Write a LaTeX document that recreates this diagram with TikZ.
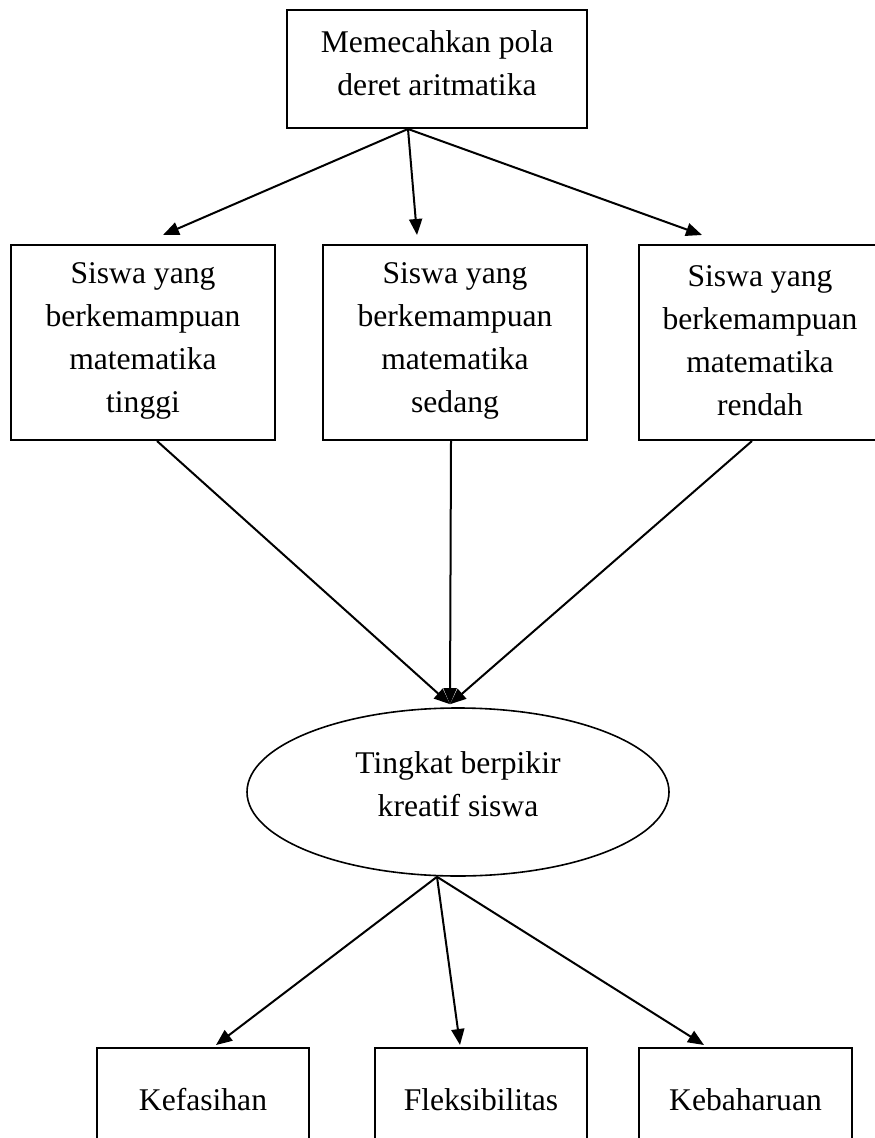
\documentclass[tikz,border=0pt]{standalone}
\usepackage{fontspec}
\setmainfont{Liberation Serif}
\usetikzlibrary{arrows.meta,calc,shapes.geometric}
\tikzset{
  boxshape/.style={draw, line width=1pt, rectangle, inner sep=0pt},
  ellshape/.style={draw, line width=0.8pt, ellipse, inner sep=0pt},
  lbl/.style={align=center, inner sep=0pt, font=\fontsize{15.8}{21.5}\selectfont},
  arr/.style={line width=1pt, -{Triangle[length=8pt,width=6.5pt]}}
}
\begin{document}
\begin{tikzpicture}[x=0.5pt,y=-0.5pt]
\useasboundingbox (0,0) rectangle (874,1138);
% shapes
\node[boxshape, minimum width=150pt, minimum height=59pt] (top) at (437,69) {};
\node[boxshape, minimum width=132pt, minimum height=97.5pt] (L) at (143,342.5) {};
\node[boxshape, minimum width=132pt, minimum height=97.5pt] (M) at (455,342.5) {};
\node[boxshape, minimum width=120.5pt, minimum height=97.5pt] (R) at (759.5,342.5) {};
\node[ellshape, minimum width=211pt, minimum height=84pt] (E) at (458,792) {};
\node[boxshape, minimum width=106pt, minimum height=52pt] (B1) at (203,1100) {};
\node[boxshape, minimum width=106pt, minimum height=52pt] (B2) at (481,1100) {};
\node[boxshape, minimum width=106.5pt, minimum height=52pt] (B3) at (745.5,1100) {};
% texts
\node[lbl] (topt) at (437,63) {Memecahkan pola\\deret aritmatika};
\node[lbl] (Lt) at (143,341) {Siswa yang\\berkemampuan\\matematika\\tinggi};
\node[lbl] (Mt) at (455,341) {Siswa yang\\berkemampuan\\matematika\\sedang};
\node[lbl] (Rt) at (760,341) {Siswa yang\\berkemampuan\\matematika\\rendah};
\node[lbl] (Et) at (458,784) {Tingkat berpikir\\kreatif siswa};
\node[lbl] (B1t) at (203,1100) {Kefasihan};
\node[lbl] (B2t) at (481,1100) {Fleksibilitas};
\node[lbl] (B3t) at (745.5,1100) {Kebaharuan};
% connectors top -> middle row
\coordinate (tsrc) at ($(top.south)+(-29,0)$);
\draw[arr] (tsrc) -- ($(L.north)+(20,-9)$);
\draw[arr] (tsrc) -- ($(M.north)+(-38,-9)$);
\draw[arr] (tsrc) -- ($(R.north)+(-57.5,-9)$);
% middle row -> ellipse
\coordinate (etgt) at ($(E.north)+(-8,-3)$);
\draw[arr] ($(L.south)+(14,0)$) -- (etgt);
\draw[arr] ($(M.south)+(-4,0)$) -- (etgt);
\draw[arr] ($(R.south)+(-7.5,0)$) -- (etgt);
% ellipse -> bottom row
\coordinate (esrc) at ($(E.south)+(-21,0)$);
\draw[arr] (esrc) -- ($(B1.north)+(13,-2)$);
\draw[arr] (esrc) -- ($(B2.north)+(-21,-2)$);
\draw[arr] (esrc) -- ($(B3.north)+(-41.5,-2)$);
\end{tikzpicture}
\end{document}
